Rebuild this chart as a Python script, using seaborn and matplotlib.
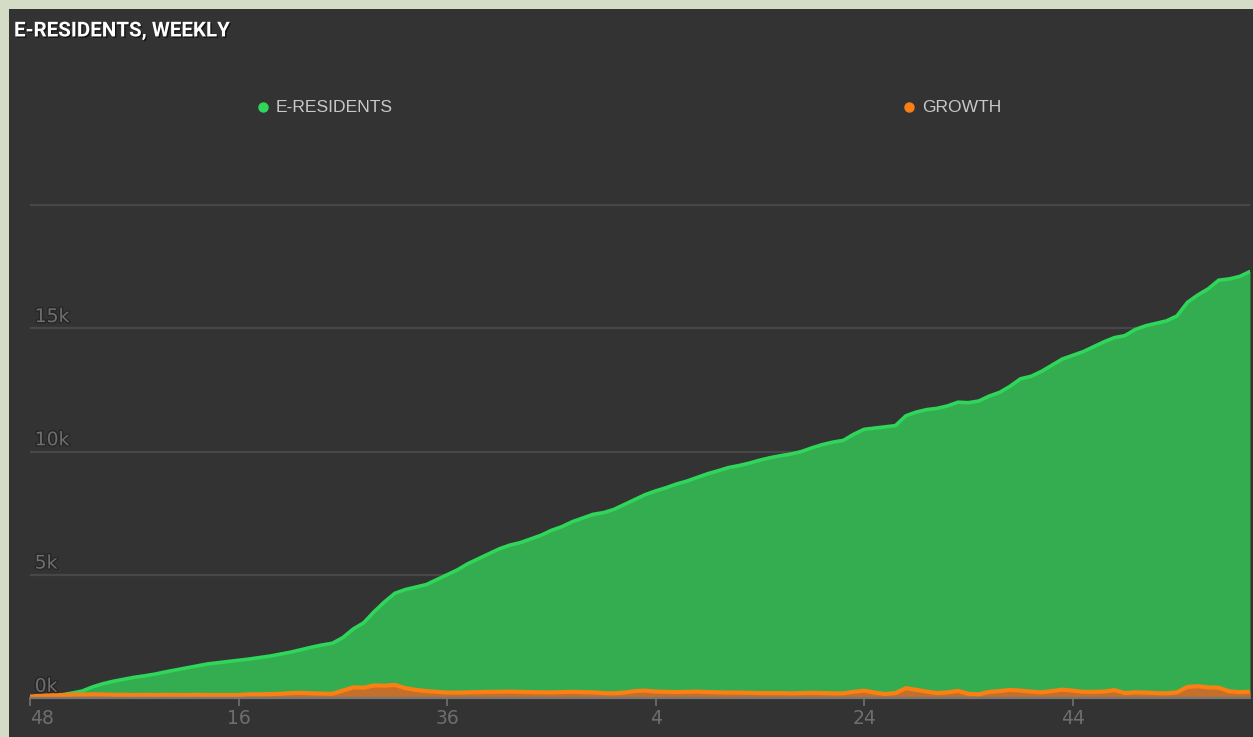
import numpy as np
import pandas as pd
import matplotlib
matplotlib.use("Agg")
import matplotlib.pyplot as plt
import matplotlib.patheffects as pe
import seaborn as sns

# ---------------- data ----------------
e_residents = [0, 30, 80, 120, 200, 280, 450, 580, 680, 760,
               840, 900, 970, 1060, 1140, 1220, 1300, 1380, 1430, 1480,
               1530, 1580, 1640, 1700, 1780, 1860, 1960, 2060, 2150, 2220,
               2450, 2800, 3050, 3500, 3900, 4250, 4400, 4500, 4600, 4800,
               5000, 5200, 5450, 5650, 5850, 6050, 6200, 6300, 6450, 6600,
               6800, 6950, 7150, 7300, 7450, 7520, 7650, 7850, 8050, 8250,
               8400, 8530, 8680, 8800, 8950, 9100, 9220, 9350, 9430, 9530,
               9650, 9750, 9830, 9900, 10000, 10150, 10280, 10380, 10450, 10700,
               10900, 10950, 11000, 11050, 11450, 11600, 11700, 11750, 11850, 12000,
               11980, 12050, 12250, 12400, 12650, 12950, 13050, 13250, 13500, 13750,
               13900, 14050, 14250, 14450, 14620, 14700, 14950, 15100, 15200, 15300,
               15500, 16050, 16350, 16600, 16950, 17000, 17100, 17300]

growth = [60, 90, 110, 120, 130, 140, 150, 140, 130, 130,
          120, 130, 120, 130, 120, 120, 130, 120, 120, 120,
          120, 150, 150, 160, 170, 200, 210, 190, 180, 170,
          300, 430, 420, 510, 500, 530, 400, 330, 280, 250,
          220, 220, 230, 240, 250, 250, 260, 250, 240, 230,
          230, 240, 250, 240, 230, 200, 190, 220, 280, 300,
          260, 250, 240, 250, 260, 240, 230, 220, 220, 210,
          200, 200, 200, 190, 200, 210, 200, 190, 190, 250,
          300, 220, 160, 200, 400, 330, 260, 200, 230, 290,
          170, 150, 250, 280, 330, 300, 260, 230, 280, 340,
          300, 250, 250, 260, 320, 200, 230, 220, 200, 190,
          230, 450, 480, 430, 420, 270, 240, 250]

week_tick_idx = [0, 20, 40, 60, 80, 100]
week_tick_labels = ["48", "16", "36", "4", "24", "44"]
y_ticks = [0, 5000, 10000, 15000]
y_tick_labels = ["0k", "5k", "10k", "15k"]
series_names = ["E-RESIDENTS", "GROWTH"]

df = pd.DataFrame({"week": np.arange(len(e_residents)),
                   "E-RESIDENTS": e_residents,
                   "GROWTH": growth})

# ---------------- style ----------------
sns.set_theme(style="dark")
plt.rcParams["font.family"] = ["DejaVu Sans"]

BORDER = "#d5dcc6"
PANEL = "#333333"
GREEN_FILL = "#33ad50"
GREEN_LINE = "#2fd65a"
ORANGE_FILL = "#c4702a"
ORANGE_LINE = "#fa7f14"
GRID = "#474747"
TICK = "#707070"

W, H = 1253, 737
fig = plt.figure(figsize=(W / 100, H / 100), dpi=100)
fig.patch.set_facecolor(BORDER)

# dark panel
panel = fig.add_axes([9 / W, 0, 1 - 9 / W, 1 - 9 / H])
panel.set_facecolor(PANEL)
panel.set_xticks([]); panel.set_yticks([])
for s in panel.spines.values():
    s.set_visible(False)

# plot axes
x0, x1 = 30, 1250
ybase, ytop = 698, 192
ax = fig.add_axes([x0 / W, (H - ybase) / H, (x1 - x0) / W, (ybase - ytop) / H])
ax.set_facecolor("none")
ymax = 20000 * (ybase - ytop) / (ybase - 205)
ax.set_xlim(0, len(e_residents) - 1)
ax.set_ylim(0, ymax)

# grid lines
for v in [5000, 10000, 15000, 20000]:
    ax.axhline(v, color=GRID, lw=1.6, zorder=0)

# areas and lines
ax.fill_between(df["week"], df["E-RESIDENTS"], color=GREEN_FILL, lw=0, zorder=1)
sns.lineplot(data=df, x="week", y="E-RESIDENTS", ax=ax, color=GREEN_LINE, lw=2.6, zorder=2)
ax.fill_between(df["week"], df["GROWTH"], color=ORANGE_FILL, lw=0, zorder=3)
sns.lineplot(data=df, x="week", y="GROWTH", ax=ax, color=ORANGE_LINE, lw=3.0, zorder=4)

# baseline
ax.axhline(0, color="#777777", lw=1.6, zorder=5, clip_on=False)

for s in ax.spines.values():
    s.set_visible(False)
ax.set_xlabel(""); ax.set_ylabel("")
ax.set_yticks([])
ax.set_xticks(week_tick_idx)
ax.set_xticklabels(week_tick_labels)
ax.tick_params(axis="x", colors=TICK, length=6, width=1.2, direction="out",
               labelsize=13.5, pad=2, bottom=True)
for lab in ax.get_xticklabels():
    lab.set_color("#6e6e6e")
ax.get_xticklabels()[0].set_horizontalalignment("left")

shadow = [pe.withStroke(linewidth=2, foreground="#262626")]
for v, lab in zip(y_ticks, y_tick_labels):
    ax.text(0.45, v + 90, lab, color="#6e6e6e", fontsize=13.5, ha="left", va="bottom",
            zorder=6, path_effects=shadow)

# title
fig.text(14 / W, 1 - 31 / H, "E-RESIDENTS, WEEKLY", color="white", fontsize=14.8,
         fontweight="bold", family=["Roboto", "DejaVu Sans"], ha="left", va="center",
         path_effects=[pe.withSimplePatchShadow(offset=(1, -1), shadow_rgbFace="black", alpha=0.6)])

# legend
leg_y = 1 - 107 / H
for name, cx, col in zip(series_names, [263, 909], [GREEN_LINE, ORANGE_LINE]):
    fig.add_artist(plt.Line2D([cx / W], [leg_y], marker="o", markersize=6.5,
                              color=col, transform=fig.transFigure, lw=0))
    fig.text((cx + 13) / W, leg_y, name, color="#c8c8c8", fontsize=12.6,
             family=["Liberation Sans", "DejaVu Sans"], ha="left", va="center")

fig.savefig("out.png", dpi=100, facecolor=fig.get_facecolor())
